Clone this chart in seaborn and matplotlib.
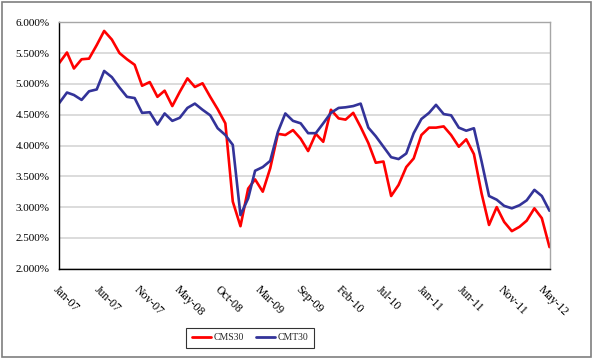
import numpy as np
import pandas as pd
import matplotlib
matplotlib.use("Agg")
import matplotlib.pyplot as plt
import matplotlib.dates as mdates
from matplotlib.patches import Rectangle
from matplotlib.ticker import FuncFormatter, MultipleLocator
import seaborn as sns

# ---- data (monthly, Jan-2007 .. Jun-2012), values in percent ----
months = pd.date_range("2007-01-01", periods=66, freq="MS")

cms30 = [5.34, 5.51, 5.25, 5.40, 5.41, 5.63, 5.86, 5.72, 5.50, 5.40,
         5.31, 4.97, 5.03, 4.79, 4.89, 4.64, 4.87, 5.09, 4.95, 5.01,
         4.79, 4.59, 4.36, 3.09, 2.69, 3.30, 3.45, 3.25, 3.63, 4.19,
         4.17, 4.25, 4.11, 3.91, 4.19, 4.06, 4.58, 4.44, 4.42, 4.53,
         4.30, 4.04, 3.72, 3.74, 3.18, 3.36, 3.65, 3.79, 4.17, 4.29,
         4.29, 4.31, 4.17, 3.98, 4.10, 3.86, 3.22, 2.71, 3.00, 2.76,
         2.61, 2.68, 2.78, 2.98, 2.82, 2.35]

cmt30 = [4.69, 4.86, 4.82, 4.74, 4.88, 4.91, 5.21, 5.11, 4.94, 4.79,
         4.77, 4.53, 4.54, 4.34, 4.52, 4.40, 4.45, 4.61, 4.68, 4.58,
         4.49, 4.28, 4.17, 4.01, 2.87, 3.14, 3.59, 3.65, 3.75, 4.22,
         4.52, 4.40, 4.36, 4.20, 4.20, 4.36, 4.53, 4.61, 4.62, 4.64,
         4.68, 4.29, 4.15, 3.98, 3.81, 3.78, 3.87, 4.20, 4.43, 4.53,
         4.66, 4.51, 4.49, 4.29, 4.24, 4.28, 3.74, 3.18, 3.12, 3.02,
         2.98, 3.03, 3.11, 3.28, 3.18, 2.94]

series_names = ["CMS30", "CMT30"]
series_colors = ["#FF0000", "#333399"]

tick_labels = ["Jan-07", "Jun-07", "Nov-07", "May-08", "Oct-08", "Mar-09",
               "Sep-09", "Feb-10", "Jul-10", "Jan-11", "Jun-11", "Nov-11",
               "May-12"]

y_ticks = [2.0, 2.5, 3.0, 3.5, 4.0, 4.5, 5.0, 5.5, 6.0]

# ---- long-form table ----
df = pd.DataFrame({
    "date": list(months) * 2,
    "rate": cms30 + cmt30,
    "series": [series_names[0]] * len(cms30) + [series_names[1]] * len(cmt30),
})

sns.set_theme(style="white")
plt.rcParams["font.family"] = ["Liberation Serif", "DejaVu Serif"]

W, H = 592, 358
fig = plt.figure(figsize=(W / 100, H / 100), dpi=100)
fig.patch.set_facecolor("white")

left, right, top, bottom = 59.3, 550.0, 22.3, 268.7
ax = fig.add_axes([left / W, 1 - bottom / H, (right - left) / W, (bottom - top) / H])

sns.lineplot(data=df, x="date", y="rate", hue="series",
             palette=dict(zip(series_names, series_colors)),
             linewidth=1.9, ax=ax, legend=True)

# axes ranges
ax.set_xlim(mdates.date2num(months[0]), mdates.date2num(months[-1]) + 2)
ax.set_ylim(2.0, 6.0)

# x ticks: evenly spaced date ticks (Excel-style major unit of 163 days)
tick_pos = [mdates.date2num(months[0] + pd.Timedelta(days=163 * k))
            for k in range(len(tick_labels))]
ax.set_xticks(tick_pos)
ax.set_xticklabels(tick_labels, rotation=-45, ha="left", va="top",
                   rotation_mode="anchor", fontsize=8.5)

ax.set_yticks(y_ticks)
ax.yaxis.set_major_formatter(FuncFormatter(lambda v, p: f"{v:.3f}%"))
ax.tick_params(axis="y", labelsize=8, direction="out", length=4,
               width=0.8, color="black", pad=3, labelcolor="black")
ax.tick_params(axis="x", direction="out", length=4, width=0.8,
               color="black", pad=7, labelcolor="black")

ax.set_xlabel("")
ax.set_ylabel("")

# grid and frame
ax.yaxis.grid(True, color="#D9D9D9", linewidth=1.3)
ax.xaxis.grid(False)
ax.set_axisbelow(True)
for s in ["left", "bottom"]:
    ax.spines[s].set_color("black")
    ax.spines[s].set_linewidth(1.0)
for s in ["top", "right"]:
    ax.spines[s].set_color("#A6A6A6")
    ax.spines[s].set_linewidth(1.0)

# legend below the plot
handles, labels = ax.get_legend_handles_labels()
leg = ax.legend(handles, labels, loc="center",
                bbox_to_anchor=(250 / W, 1 - 338 / H),
                bbox_transform=fig.transFigure, ncol=2, frameon=True,
                fancybox=False, edgecolor="black", fontsize=7,
                handlelength=2.0, handletextpad=0.25, columnspacing=1.2,
                borderpad=0.55)
leg.get_frame().set_linewidth(0.8)
for line in leg.get_lines():
    line.set_linewidth(2.0)

# chart-area border
fig.patches.append(Rectangle((1.5 / W, 1.5 / H), (W - 3) / W, (H - 3) / H,
                             transform=fig.transFigure, fill=False,
                             edgecolor="#7F7F7F", linewidth=1.2))

fig.savefig("out.png", dpi=100, facecolor="white")
